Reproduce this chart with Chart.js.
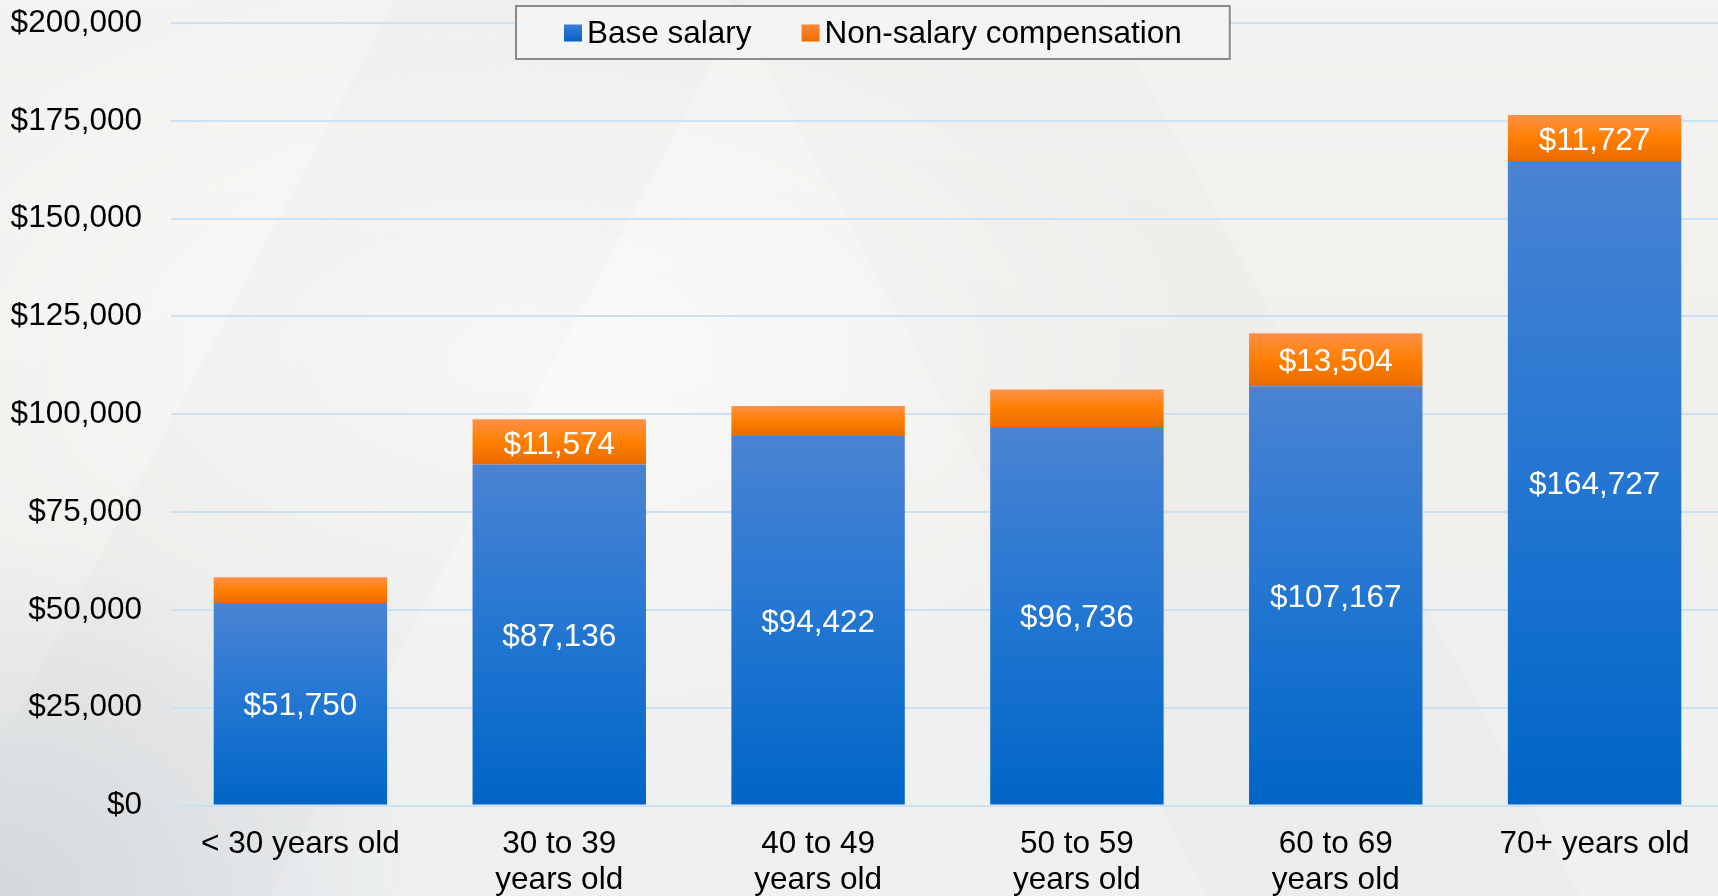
<!DOCTYPE html>
<html>
<head>
<meta charset="utf-8">
<script src="https://cdn.jsdelivr.net/npm/chart.js@4.4.1/dist/chart.umd.min.js"></script>
<style>
html, body { margin: 0; padding: 0; width: 1718px; height: 896px; overflow: hidden; }
body {
  background:
    radial-gradient(ellipse 420px 360px at 0% 100%, rgba(190,196,204,0.5), rgba(190,196,204,0) 100%),
    linear-gradient(118deg, rgba(0,0,0,0) 18%, rgba(0,0,0,0.014) 18%, rgba(0,0,0,0.014) 34%, rgba(0,0,0,0) 34%),
    linear-gradient(62deg, rgba(0,0,0,0) 55%, rgba(0,0,0,0.012) 55%, rgba(0,0,0,0.012) 72%, rgba(0,0,0,0) 72%),
    radial-gradient(ellipse 700px 400px at 30% 40%, rgba(255,255,255,0.7), rgba(255,255,255,0) 100%),
    linear-gradient(to bottom, #f4f3f1 0%, #f0efec 55%, #eef0f1 100%);
}
#wrap { position: absolute; left: 0; top: 0; width: 1724px; height: 896px; }
</style>
</head>
<body>
<div id="wrap"><canvas id="c"></canvas></div>
<script>
const categories = ["< 30 years old", ["30 to 39", "years old"], ["40 to 49", "years old"], ["50 to 59", "years old"], ["60 to 69", "years old"], "70+ years old"];
const seriesNames = ["Base salary", "Non-salary compensation"];
const baseSalary = [51750, 87136, 94422, 96736, 107167, 164727];
const nonSalary = [6600, 11574, 7700, 9600, 13504, 11727];
const yTickValues = [0, 25000, 50000, 75000, 100000, 125000, 150000, 175000, 200000];

const FONT = '"Liberation Sans", Arial, Helvetica, sans-serif';
const FS = 31.5;

const blueStops = [[0, '#4a83d3'], [0.5, '#2276d2'], [1, '#0065c6']];
const orangeStops = [[0, '#ff9048'], [0.5, '#ff7f00'], [1, '#e86b00']];
const legendColors = [['#3f7fd6', '#0062c6'], ['#ff8a3c', '#f06c00']];

function money(v) { return '$' + Math.round(v).toLocaleString('en-US'); }

function segFill(stops, solid, startArr, endArr) {
  return function (c) {
    const chart = c.chart;
    const ys = chart.scales && chart.scales.y;
    if (c.type !== 'data' || !chart.chartArea || !ys) return solid;
    const i = c.dataIndex;
    const s = startArr ? startArr[i] : 0;
    const e = s + endArr[i];
    const yTop = ys.getPixelForValue(e);
    const yBot = ys.getPixelForValue(s);
    if (!isFinite(yTop) || !isFinite(yBot) || yTop === yBot) return solid;
    const g = chart.ctx.createLinearGradient(0, yTop, 0, yBot);
    stops.forEach(([o, col]) => g.addColorStop(o, col));
    return g;
  };
}

const labelPlugin = {
  id: 'segLabels',
  afterDatasetsDraw(chart) {
    const ctx = chart.ctx;
    ctx.save();
    ctx.font = FS + 'px ' + FONT;
    ctx.fillStyle = '#ffffff';
    ctx.textAlign = 'center';
    ctx.textBaseline = 'middle';
    chart.data.datasets.forEach((ds, di) => {
      const meta = chart.getDatasetMeta(di);
      meta.data.forEach((el, i) => {
        const v = ds.data[i];
        if (v < 10000) return;
        ctx.fillText(money(v), el.x, (el.y + el.base) / 2 + 3);
      });
    });
    ctx.restore();
  }
};

const legendPlugin = {
  id: 'boxLegend',
  afterDraw(chart) {
    const ctx = chart.ctx;
    ctx.save();
    ctx.font = FS + 'px ' + FONT;
    const names = chart.data.datasets.map(d => d.label);
    const mk = 18, gapMk = 5, gapItem = 50, padX = 48;
    const widths = names.map(n => ctx.measureText(n).width);
    let inner = 0;
    widths.forEach((w, k) => { inner += mk + gapMk + w + (k < widths.length - 1 ? gapItem : 0); });
    const boxW = inner + padX * 2;
    const boxH = 53;
    const cx = 873;
    const bx = Math.round(cx - boxW / 2), by = 6;
    ctx.fillStyle = 'rgba(243,243,243,0.95)';
    ctx.fillRect(bx, by, boxW, boxH);
    ctx.strokeStyle = '#8a8a8a';
    ctx.lineWidth = 2;
    ctx.strokeRect(bx, by, boxW, boxH);
    let x = bx + padX;
    const cy = by + boxH / 2;
    names.forEach((n, k) => {
      const g = ctx.createLinearGradient(0, cy - 9, 0, cy + 9);
      g.addColorStop(0, legendColors[k][0]);
      g.addColorStop(1, legendColors[k][1]);
      ctx.fillStyle = g;
      ctx.fillRect(x, cy - 8, mk, 17);
      x += mk + gapMk;
      ctx.fillStyle = '#000000';
      ctx.textAlign = 'left';
      ctx.textBaseline = 'middle';
      ctx.fillText(n, x, cy + 2);
      x += widths[k] + gapItem;
    });
    ctx.restore();
  }
};

new Chart(document.getElementById('c'), {
  type: 'bar',
  data: {
    labels: categories,
    datasets: [
      { label: seriesNames[0], data: baseSalary, backgroundColor: segFill(blueStops, '#1a70d0', null, baseSalary), borderWidth: 0 },
      { label: seriesNames[1], data: nonSalary, backgroundColor: segFill(orangeStops, '#ff7f00', baseSalary, nonSalary), borderWidth: 0 }
    ]
  },
  options: {
    responsive: true,
    maintainAspectRatio: false,
    animation: false,
    layout: { padding: { top: 23, right: 0, bottom: 0, left: 0 } },
    plugins: { legend: { display: false }, tooltip: { enabled: false } },
    datasets: { bar: { categoryPercentage: 1.0, barPercentage: 0.67 } },
    scales: {
      x: {
        stacked: true,
        grid: { display: false, drawTicks: false },
        border: { display: false },
        afterFit(scale) { scale.height = 90.5; },
        ticks: { color: '#000000', padding: 20, maxRotation: 0, autoSkip: false, font: { family: FONT, size: FS, lineHeight: 1.17 } }
      },
      y: {
        stacked: true,
        min: yTickValues[0],
        max: yTickValues[yTickValues.length - 1],
        afterBuildTicks(scale) { scale.ticks = yTickValues.map(v => ({ value: v })); },
        afterFit(scale) { scale.width = 171; scale.paddingTop = 0; scale.paddingBottom = 0; },
        grid: { color: '#cbe1f6', lineWidth: 2, drawTicks: false },
        border: { display: false },
        ticks: { color: '#000000', padding: 29, font: { family: FONT, size: FS }, callback: v => money(v) }
      }
    }
  },
  plugins: [labelPlugin, legendPlugin]
});
</script>
</body>
</html>
